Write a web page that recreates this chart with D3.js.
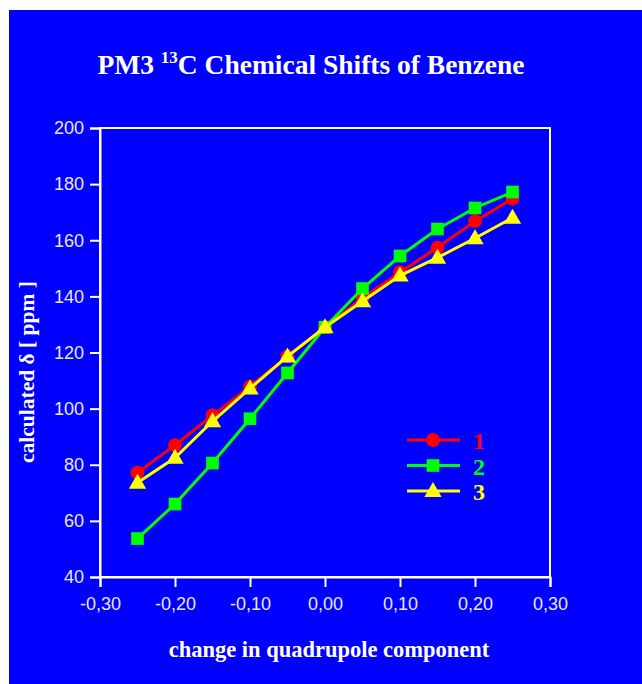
<!DOCTYPE html>
<html>
<head>
<meta charset="utf-8">
<script src="https://cdn.jsdelivr.net/npm/d3@7.9.0/dist/d3.min.js"></script>
<style>
  html, body { margin: 0; padding: 0; background: #fff; }
  svg { display: block; }
</style>
</head>
<body>
<svg id="chart" width="642" height="684"></svg>
<script>
// values
const shifts = [-0.25, -0.20, -0.15, -0.10, -0.05, 0.00, 0.05, 0.10, 0.15, 0.20, 0.25];
const series1 = [77.2, 87, 97.6, 107.8, 118.6, 129, 139.4, 148.6, 157.4, 166.8, 174.8];
const series2 = [53.7, 66, 80.6, 96.4, 112.7, 129, 142.8, 154.4, 164, 171.5, 177.2];
const series3 = [73.6, 82.5, 95.5, 107.2, 118.6, 129, 138.3, 147.4, 153.8, 160.7, 168];
const xTicks = [-0.30, -0.20, -0.10, 0.00, 0.10, 0.20, 0.30];
const yTicks = [40, 60, 80, 100, 120, 140, 160, 180, 200];
const seriesNames = ['1', '2', '3'];

const colors = ['#ff0000', '#00ff00', '#ffff00'];
const symbols = [d3.symbolCircle, d3.symbolSquare, d3.symbolTriangle];
const symSizes = [150, 160, 130];

const svg = d3.select('#chart');
const W = 642, H = 684;

svg.append('rect')
  .attr('x', 9).attr('y', 10)
  .attr('width', W - 9).attr('height', H - 10)
  .attr('fill', '#0000ff');

const plotL = 100, plotR = 550, plotT = 128, plotB = 577;

let x = d3.scaleLinear().domain([-0.3, 0.3]).range([plotL, plotR]);
let y = d3.scaleLinear().domain([40, 200]).range([plotB, plotT]);

const fmt = (d) => d3.format('.2f')(d).replace('.', ',').replace('−', '-');

// frame
svg.append('rect')
  .attr('x', plotL).attr('y', plotT)
  .attr('width', plotR - plotL).attr('height', plotB - plotT)
  .attr('fill', 'none').attr('stroke', '#fff').attr('stroke-width', 2);

let xAxis = svg.append('g')
  .attr('transform', `translate(0,${plotB})`)
  .call(d3.axisBottom(x).tickValues(xTicks).tickFormat(fmt).tickSize(10).tickPadding(10));

let yAxis = svg.append('g')
  .attr('transform', `translate(${plotL},0)`)
  .call(d3.axisLeft(y).tickValues(yTicks).tickSize(10).tickPadding(6));

[xAxis, yAxis].forEach((ax) => {
  ax.select('.domain').attr('stroke', '#fff').attr('stroke-width', 2);
  ax.selectAll('.tick line').attr('stroke', '#fff').attr('stroke-width', 2);
  ax.selectAll('.tick text')
    .attr('fill', '#e8e8f0')
    .attr('font-family', 'Liberation Sans, Arial, sans-serif')
    .attr('font-size', 18);
});

// series
const allSeries = [series1, series2, series3];
const line = d3.line().x((d, i) => x(shifts[i])).y((d) => y(d));

allSeries.forEach((vals, idx) => {
  svg.append('path')
    .datum(vals)
    .attr('d', line)
    .attr('fill', 'none')
    .attr('stroke', colors[idx])
    .attr('stroke-width', 3);

  svg.selectAll(null)
    .data(vals)
    .enter()
    .append('path')
    .attr('d', d3.symbol().type(symbols[idx]).size(symSizes[idx]))
    .attr('transform', (d, i) => `translate(${x(shifts[i])},${y(d) + (idx === 2 ? 1 : 0)})`)
    .attr('fill', colors[idx]);
});

// legend
seriesNames.forEach((name, idx) => {
  const ly = 440 + idx * 25.5;
  svg.append('line')
    .attr('x1', 407).attr('x2', 460)
    .attr('y1', ly).attr('y2', ly)
    .attr('stroke', colors[idx]).attr('stroke-width', 3);
  svg.append('path')
    .attr('d', d3.symbol().type(symbols[idx]).size(symSizes[idx]))
    .attr('transform', `translate(433,${ly + (idx === 2 ? 1 : 0)})`)
    .attr('fill', colors[idx]);
  svg.append('text')
    .attr('x', 473).attr('y', ly + 9)
    .attr('fill', colors[idx])
    .attr('font-family', 'Liberation Serif, Times New Roman, serif')
    .attr('font-weight', 'bold')
    .attr('font-size', 24)
    .text(name);
});

// titles
const title = svg.append('text')
  .attr('x', 311).attr('y', 74)
  .attr('text-anchor', 'middle')
  .attr('fill', '#fff')
  .attr('font-family', 'Liberation Serif, Times New Roman, serif')
  .attr('font-weight', 'bold')
  .attr('font-size', 27.5);
title.append('tspan').text('PM3 ');
title.append('tspan').attr('font-size', 17).attr('dy', -11).text('13');
title.append('tspan').attr('dy', 11).text('C Chemical Shifts of Benzene');

svg.append('text')
  .attr('x', 329).attr('y', 657)
  .attr('text-anchor', 'middle')
  .attr('fill', '#fff')
  .attr('font-family', 'Liberation Serif, Times New Roman, serif')
  .attr('font-weight', 'bold')
  .attr('font-size', 22.5)
  .text('change in quadrupole component');

svg.append('text')
  .attr('transform', 'translate(34,372) rotate(-90)')
  .attr('text-anchor', 'middle')
  .attr('fill', '#fff')
  .attr('font-family', 'Liberation Serif, Times New Roman, serif')
  .attr('font-weight', 'bold')
  .attr('font-size', 21.5)
  .text('calculated δ [ ppm ]');
</script>
</body>
</html>
